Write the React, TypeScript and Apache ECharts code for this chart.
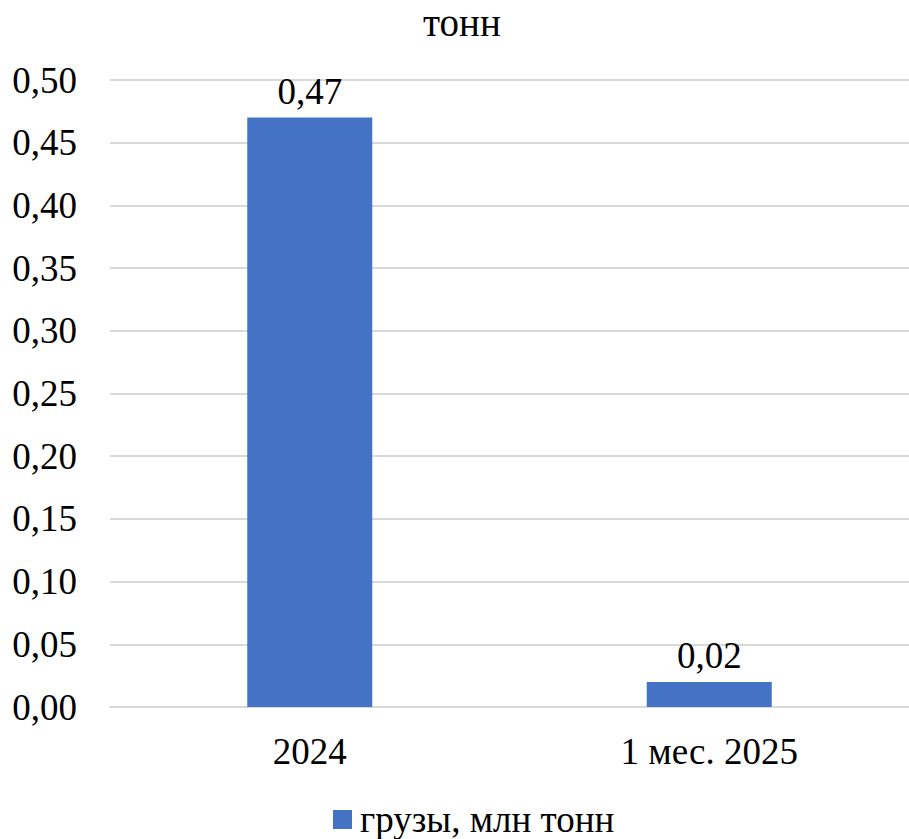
import React, { useEffect, useRef } from "react";
import * as echarts from "echarts";

const categories = ["2024", "1 мес. 2025"];
const seriesName = "грузы, млн тонн";
const values = [0.47, 0.02];
const titleText = "тонн";

const FONT = "Liberation Serif";

export default function App() {
  const ref = useRef<HTMLDivElement>(null);
  useEffect(() => {
    if (!ref.current) return;
    const chart = echarts.init(ref.current, undefined, { renderer: "svg" });
    chart.setOption({
      animation: false,
      textStyle: { fontFamily: FONT },
      title: {
        text: titleText,
        left: 423,
        top: 3,
        padding: 0,
        textStyle: { fontFamily: FONT, fontSize: 39, fontWeight: "normal", color: "#000" },
      },
      legend: {
        data: [seriesName],
        left: 333,
        top: 801,
        padding: 0,
        icon: "rect",
        itemWidth: 19,
        itemHeight: 19,
        itemGap: 8,
        textStyle: { fontFamily: FONT, fontSize: 37, color: "#000", padding: [0, 0, 0, 3] },
      },
      grid: { left: 110, top: 80, width: 800, height: 627, containLabel: false },
      xAxis: {
        type: "category",
        data: categories,
        axisLine: { show: true, lineStyle: { color: "#d9d9d9", width: 2 } },
        axisTick: { show: false },
        axisLabel: { fontFamily: FONT, fontSize: 37, color: "#000", margin: 26 },
      },
      yAxis: {
        type: "value",
        min: 0,
        max: 0.5,
        interval: 0.05,
        axisLine: { show: false },
        axisTick: { show: false },
        splitLine: { lineStyle: { color: "#d9d9d9", width: 2 } },
        axisLabel: {
          fontFamily: FONT,
          fontSize: 37,
          color: "#000",
          margin: 33,
          formatter: (v: number) => v.toFixed(2).replace(".", ","),
        },
      },
      series: [
        {
          name: seriesName,
          type: "bar",
          data: values,
          barWidth: 125,
          itemStyle: { color: "#4472C4" },
          label: {
            show: true,
            position: "top",
            distance: 8,
            fontFamily: FONT,
            fontSize: 37,
            color: "#000",
            formatter: (p: any) => Number(p.value).toFixed(2).replace(".", ","),
          },
        },
      ],
    });
    return () => chart.dispose();
  }, []);
  return (
    <div
      ref={ref}
      style={{ position: "fixed", left: 0, top: 0, width: 909, height: 839, background: "#fff" }}
    />
  );
}
